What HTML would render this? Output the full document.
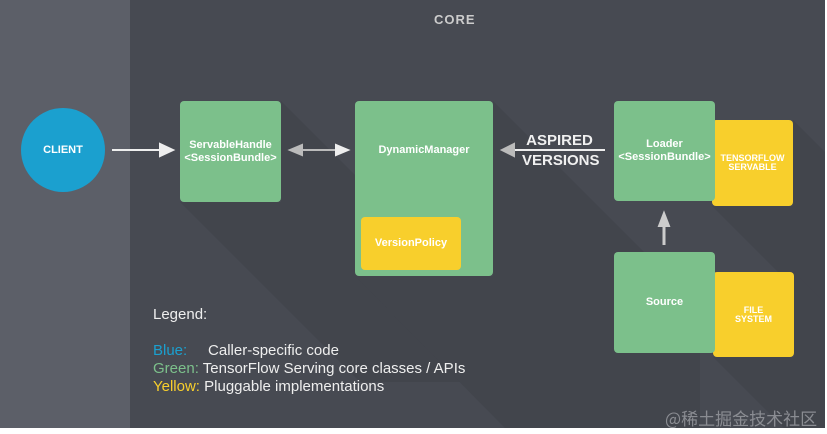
<!DOCTYPE html>
<html><head><style>
body{margin:0;width:827px;height:434px;background:#fff;font-family:"Liberation Sans",sans-serif;overflow:hidden}
#c{position:absolute;left:0;top:0;width:825px;height:428px;background:#474a52}
.l{position:absolute;left:0;top:0;width:130px;height:428px;background:#5c5f68}
.b{position:absolute;display:flex;align-items:center;justify-content:center;text-align:center;color:#fff;font-weight:bold;border-radius:4px}
.g{background:#7cc08b;font-size:11px;line-height:13px}
.y{background:#f8cf2c;font-size:9px;line-height:9px}
.t{position:absolute;color:#eee;font-size:15px}
</style></head><body>
<div id="c"><div class="l"></div>
<svg style="position:absolute;left:0;top:0" width="825" height="428">
<g fill="#42454c">
<polygon points="281,101 281,202 180,202 360,382 460,382 460,280"/>
<polygon points="493,101 493,276 355,276 505,428 700,428 700,308"/>
<polygon points="793,120 793,206 712,206 825,319 825,152"/>
<polygon points="794,272 794,357 713,357 784,428 825,428 825,303"/>
</g></svg>
<div class="t" style="left:434px;top:12px;font-weight:bold;font-size:13px;color:#ccc;letter-spacing:1px">CORE</div>
<div class="b" style="left:21px;top:108px;width:84px;height:84px;border-radius:50%;background:#1ba0cf;font-size:11px">CLIENT</div>
<div class="b g" style="left:180px;top:101px;width:101px;height:101px">ServableHandle<br>&lt;SessionBundle&gt;</div>
<div class="b g" style="left:355px;top:101px;width:138px;height:175px;align-items:flex-start;padding-top:0"><span style="margin-top:43px">DynamicManager</span></div>
<div class="b y" style="left:361px;top:217px;width:100px;height:53px;font-size:11px">VersionPolicy</div>
<div class="b y" style="left:712px;top:120px;width:81px;height:86px">TENSORFLOW<br>SERVABLE</div>
<div class="b g" style="left:614px;top:101px;width:101px;height:100px">Loader<br>&lt;SessionBundle&gt;</div>
<div class="b y" style="left:713px;top:272px;width:81px;height:85px">FILE<br>SYSTEM</div>
<div class="b g" style="left:614px;top:252px;width:101px;height:101px">Source</div>
<div class="t" style="left:522px;top:131px;font-weight:bold;font-size:15px;line-height:20px;color:#f0f0f0">&nbsp;ASPIRED<br>VERSIONS</div>
<svg style="position:absolute;left:0;top:0" width="825" height="428">
<g stroke="#eee" stroke-width="2" fill="#eee">
<line x1="112" y1="150" x2="162" y2="150"/><polygon points="173,150 160,144 160,156"/>
<line x1="295" y1="150" x2="336" y2="150" stroke="#bbb"/><polygon points="348,150 336,145 336,155"/><polygon points="290,150 302,145 302,155" fill="#bbb" stroke="#bbb"/>
<line x1="510" y1="150" x2="605" y2="150"/><polygon points="502,150 514,144 514,156" fill="#bbb" stroke="#bbb"/>
<line x1="664" y1="225" x2="664" y2="245" stroke="#ccc" stroke-width="3"/><polygon points="664,213 659,226 669,226" fill="#ccc" stroke="#ccc"/>
</g></svg>
<div class="t" style="left:153px;top:306px">Legend:</div>
<div class="t" style="left:153px;top:342px"><span style="color:#1ba0cf">Blue:</span>&nbsp;&nbsp;&nbsp;&nbsp;&nbsp;Caller-specific code</div>
<div class="t" style="left:153px;top:360px"><span style="color:#7cc08b">Green:</span> TensorFlow Serving core classes / APIs</div>
<div class="t" style="left:153px;top:378px"><span style="color:#f8cf2c">Yellow:</span> Pluggable implementations</div>
<div class="t" style="left:665px;top:405px;color:#8a8c92;font-family:'Noto Sans CJK SC',sans-serif;font-size:17px">@稀土掘金技术社区</div>
</div>
</body></html>
